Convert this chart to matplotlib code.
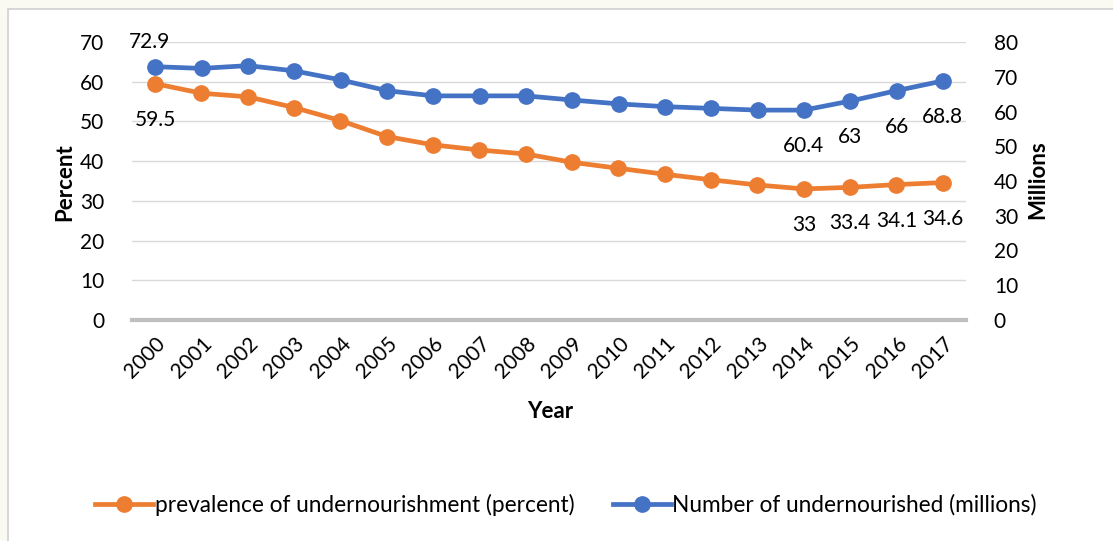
import matplotlib
matplotlib.use("Agg")
import matplotlib.pyplot as plt
from matplotlib.patches import Rectangle
from matplotlib.lines import Line2D

plt.rcParams['font.family'] = ['Lato', 'DejaVu Sans']

years = [str(y) for y in range(2000, 2018)]
prevalence = [59.5, 57.1, 56.2, 53.5, 50.2, 46.2, 44.1, 42.8, 41.8, 39.7,
              38.2, 36.7, 35.3, 34.0, 33.0, 33.4, 34.1, 34.6]
number = [72.9, 72.4, 73.2, 71.7, 69.1, 66.0, 64.5, 64.5, 64.5, 63.3,
          62.2, 61.4, 60.9, 60.4, 60.4, 63.0, 66.0, 68.8]
prev_label_idx = [0, 14, 15, 16, 17]
num_label_idx = [0, 14, 15, 16, 17]
left_ticks = [0, 10, 20, 30, 40, 50, 60, 70]
right_ticks = [0, 10, 20, 30, 40, 50, 60, 70, 80]

ORANGE = '#ED7D31'
BLUE = '#4472C4'
W, H = 1113, 541
FS = 15

fig = plt.figure(figsize=(W / 100, H / 100), dpi=100)
fig.patch.set_facecolor('#FAFAF2')
fig.patches.append(Rectangle((8 / W, -0.01), 1.0, (H - 9) / H + 0.01,
                             transform=fig.transFigure, facecolor='white',
                             edgecolor='#D0D0D0', linewidth=1.2, zorder=-10))

ax = fig.add_axes([132 / W, (H - 320) / H, (966 - 132) / W, (320 - 42) / H])
ax.set_facecolor('none')
ax2 = ax.twinx()
ax2.set_facecolor('none')

x = list(range(len(years)))
ax.plot(x, prevalence, color=ORANGE, lw=3.4, marker='o', ms=11, zorder=3)
ax2.plot(x, number, color=BLUE, lw=3.4, marker='o', ms=11, zorder=3)

ax.set_xlim(-0.5, len(years) - 0.5)
ax.set_ylim(0, 70)
ax2.set_ylim(0, 80)
ax.set_yticks(left_ticks)
ax2.set_yticks(right_ticks)
ax.set_xticks(x)
ax.set_xticklabels(years, rotation=45, ha='right', rotation_mode='anchor')

for a in (ax, ax2):
    for s in a.spines.values():
        s.set_visible(False)
    a.tick_params(axis='both', length=0, labelsize=FS, colors='#000000')
ax.tick_params(axis='y', pad=20)
ax2.tick_params(axis='y', pad=20)
ax.tick_params(axis='x', pad=10)

ax.grid(axis='y', color='#D9D9D9', lw=1.0, zorder=0)
ax.set_axisbelow(True)
ax.axhline(0, color='#BFBFBF', lw=3, zorder=2, clip_on=False)

for i in prev_label_idx:
    ax.annotate(f"{prevalence[i]:g}", (x[i], prevalence[i]), xytext=(0, -26),
                textcoords='offset points', ha='center', va='center', fontsize=FS)
for i in num_label_idx:
    dy = 18 if i == 0 else -26
    dx = -4 if i == 0 else 0
    ax2.annotate(f"{number[i]:g}", (x[i], number[i]), xytext=(dx, dy),
                 textcoords='offset points', ha='center', va='center', fontsize=FS)

fig.text(65 / W, 1 - 182 / H, 'Percent', rotation=90, ha='center', va='center',
         fontsize=16, fontweight='bold')
fig.text(1038 / W, 1 - 180 / H, 'Millions', rotation=90, ha='center', va='center',
         fontsize=16, fontweight='bold')
fig.text(550 / W, 1 - 412 / H, 'Year', ha='center', va='center',
         fontsize=16, fontweight='bold')

handles = [Line2D([], [], color=ORANGE, lw=3.4, marker='o', ms=11),
           Line2D([], [], color=BLUE, lw=3.4, marker='o', ms=11)]
labels = ['prevalence of undernourishment (percent)',
          'Number of undernourished (millions)']
fig.legend(handles, labels, loc='center', bbox_to_anchor=(566 / W, 1 - 505 / H),
           ncol=2, frameon=False, fontsize=16.3, handlelength=2.55,
           handletextpad=0.08, columnspacing=1.7)

fig.savefig('out.png', dpi=100, facecolor=fig.get_facecolor())
